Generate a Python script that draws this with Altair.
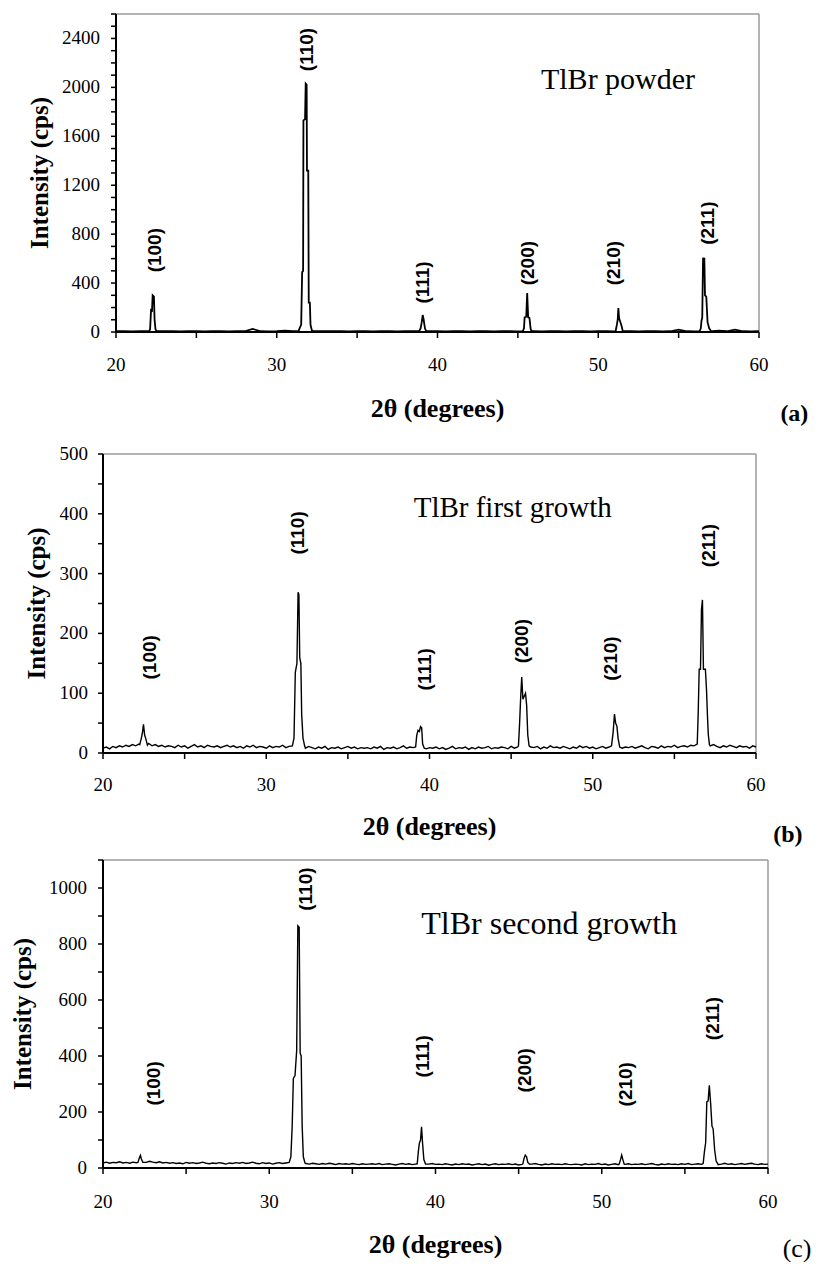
import altair as alt
import pandas as pd

# ---------------- data ----------------
# panel (a) TlBr powder
a_base_start, a_base_step = 20.0, 0.5
a_base_cps = [6, 6, 5, 6, 6, 5, 6, 6, 5, 6, 6, 5, 6, 6, 5, 6, 6, 25, 6, 5,
              6, 12, 6, 6, 5, 6, 7, 6, 6, 5, 6, 6, 5, 6, 6, 5, 6, 6, 5, 6,
              6, 5, 6, 6, 5, 6, 6, 5, 6, 6, 5, 6, 6, 5, 6, 6, 5, 6, 6, 5,
              6, 6, 5, 6, 6, 5, 6, 6, 5, 6, 20, 6, 5, 6, 6, 12, 6, 20, 6, 5, 6]
a_peak_2theta = [
    [22.05, 22.12, 22.18, 22.24, 22.28, 22.36, 22.40, 22.46, 22.55],
    [31.35, 31.45, 31.52, 31.58, 31.64, 31.66, 31.76, 31.80, 31.86, 31.88, 31.96, 31.99, 32.06, 32.10, 32.18, 32.30],
    [38.85, 38.95, 39.02, 39.08, 39.14, 39.22, 39.30],
    [45.30, 45.38, 45.42, 45.52, 45.58, 45.64, 45.72, 45.80, 45.90],
    [51.08, 51.16, 51.21, 51.25, 51.30, 51.38, 51.45, 51.52, 51.60],
    [56.30, 56.38, 56.42, 56.47, 56.52, 56.60, 56.64, 56.72, 56.80, 56.90, 57.00, 57.10],
]
a_peak_cps = [
    [6, 20, 180, 175, 300, 290, 100, 20, 6],
    [6, 40, 60, 490, 500, 1730, 1740, 2030, 2020, 1320, 1320, 240, 240, 60, 15, 6],
    [6, 30, 80, 139, 100, 30, 6],
    [6, 30, 120, 125, 318, 120, 115, 20, 6],
    [6, 60, 100, 196, 110, 80, 50, 10, 6],
    [6, 30, 90, 120, 601, 600, 300, 290, 80, 30, 10, 6],
]
a_labels = ["(100)", "(110)", "(111)", "(200)", "(210)", "(211)"]
a_label_2theta = [22.40, 31.88, 39.12, 45.60, 50.95, 56.85]
a_label_cps = [669, 2310, 405, 563, 563, 890]

# panel (b) TlBr first growth
b_base_start, b_base_step = 20.0, 0.2
b_base_cps = [8, 10, 7, 11, 9, 12, 10, 13, 11, 14, 12, 15, 11, 13, 16, 12, 14, 11, 13, 10, 12,
              11, 9, 13, 10, 12, 8, 11, 14, 10, 12, 9, 13, 11, 10, 12, 9, 11, 13, 10, 12,
              9, 11, 8, 12, 10, 13, 9, 11, 10, 8, 12, 9, 11, 10, 13, 9, 11, 12, 10, 11,
              10, 8, 11, 9, 7, 10, 8, 11, 6, 9, 8, 10, 7, 9, 11, 8, 10, 7, 9, 8,
              9, 7, 10, 8, 11, 6, 9, 8, 10, 7, 9, 12, 8, 10, 9, 11, 8, 10, 7, 9,
              8, 10, 7, 9, 6, 8, 11, 7, 9, 8, 10, 6, 9, 7, 10, 8, 9, 11, 7, 9,
              8, 10, 9, 7, 11, 8, 10, 9, 12, 8, 10, 9, 11, 7, 10, 8, 12, 9, 10, 8,
              11, 9, 7, 10, 8, 12, 9, 11, 8, 10, 7, 9, 11, 8, 10, 12, 9, 11, 8, 10,
              9, 11, 8, 10, 12, 9, 7, 11, 10, 8, 12, 9, 11, 10, 13, 9, 11, 12, 10, 13,
              12, 14, 11, 13, 10, 12, 14, 11, 9, 12, 10, 13, 11, 9, 12, 10, 11, 8, 12, 10]
b_peak_2theta = [
    [22.25, 22.35, 22.42, 22.48, 22.55, 22.62, 22.72],
    [31.60, 31.70, 31.78, 31.88, 31.95, 32.00, 32.05, 32.12, 32.17, 32.25, 32.35],
    [39.15, 39.22, 39.30, 39.38, 39.45, 39.52, 39.58, 39.68],
    [45.45, 45.52, 45.58, 45.65, 45.72, 45.80, 45.88, 45.95, 46.02, 46.10],
    [51.15, 51.25, 51.33, 51.40, 51.48, 51.55, 51.65],
    [56.40, 56.46, 56.52, 56.60, 56.66, 56.72, 56.78, 56.90, 56.97, 57.03, 57.08, 57.15],
]
b_peak_cps = [
    [14, 25, 35, 48, 30, 24, 13],
    [12, 25, 135, 150, 269, 265, 160, 150, 65, 25, 12],
    [10, 30, 38, 36, 44, 42, 15, 8],
    [12, 50, 90, 127, 90, 95, 100, 80, 30, 12],
    [12, 35, 65, 50, 45, 25, 10],
    [15, 67, 140, 140, 240, 256, 140, 140, 105, 60, 30, 14],
]
b_labels = ["(100)", "(110)", "(111)", "(200)", "(210)", "(211)"]
b_label_2theta = [22.90, 31.97, 39.73, 45.68, 51.10, 57.10]
b_label_cps = [160, 368, 140, 187, 158, 347]

# panel (c) TlBr second growth
c_base_start, c_base_step = 20.0, 0.2
c_base_cps = [18, 21, 17, 20, 19, 22, 18, 20, 17, 21, 19, 18, 22, 20, 24, 21, 19, 22, 18, 20, 17,
              19, 16, 18, 15, 20, 17, 19, 16, 18, 21, 17, 15, 18, 16, 19, 17, 14, 18, 16, 19,
              17, 20, 16, 18, 21, 17, 15, 19, 16, 18, 14, 17, 19, 16, 18, 15, 17, 19, 16, 18,
              16, 14, 17, 15, 13, 16, 14, 17, 15, 12, 16, 14, 15, 13, 16, 14, 12, 15, 13, 14,
              15, 13, 16, 12, 14, 15, 13, 11, 14, 16, 13, 15, 12, 14, 13, 15, 12, 14, 16, 13,
              14, 12, 15, 13, 11, 14, 12, 15, 13, 14, 11, 13, 15, 12, 14, 10, 13, 15, 12, 14,
              13, 15, 12, 14, 11, 13, 15, 12, 14, 16, 13, 11, 14, 12, 15, 13, 14, 12, 15, 13,
              12, 14, 13, 11, 15, 12, 14, 13, 16, 12, 14, 11, 13, 15, 12, 14, 13, 15, 12, 14,
              13, 15, 12, 14, 16, 13, 11, 14, 12, 15, 13, 14, 12, 15, 13, 16, 12, 14, 15, 13,
              14, 16, 13, 15, 12, 14, 17, 13, 15, 12, 14, 16, 13, 15, 17, 14, 12, 15, 13, 14]
c_peak_2theta = [
    [22.10, 22.18, 22.25, 22.32, 22.40],
    [31.20, 31.30, 31.38, 31.45, 31.55, 31.65, 31.72, 31.80, 31.86, 31.92, 31.98, 32.05, 32.15],
    [38.90, 38.97, 39.03, 39.10, 39.16, 39.22, 39.30, 39.40],
    [45.25, 45.33, 45.40, 45.48, 45.55, 45.65],
    [51.05, 51.13, 51.20, 51.27, 51.35],
    [56.10, 56.18, 56.25, 56.32, 56.40, 56.47, 56.55, 56.63, 56.70, 56.79, 56.88, 56.98],
]
c_peak_cps = [
    [20, 35, 45, 30, 20],
    [20, 40, 150, 320, 330, 420, 865, 860, 410, 400, 150, 40, 18],
    [15, 60, 89, 100, 147, 90, 30, 14],
    [14, 35, 46, 40, 20, 14],
    [14, 30, 46, 30, 14],
    [16, 60, 90, 236, 240, 295, 230, 150, 140, 65, 25, 15],
]
c_labels = ["(100)", "(110)", "(111)", "(200)", "(210)", "(211)"]
c_label_2theta = [23.05, 32.20, 39.25, 45.40, 51.44, 56.69]
c_label_cps = [302, 996, 399, 349, 299, 534]

sample_names = ["TlBr powder", "TlBr first growth", "TlBr second growth"]
sample_2theta = [51.23, 45.10, 46.84]
sample_cps = [2057, 410, 872]
sample_font = [30, 29, 32]

panel_tags = ["(a)", "(b)", "(c)"]
tag_2theta = [62.2, 61.95, 61.75]
tag_cps = [-669, -137, -290]
tag_weight = ["bold", "bold", "normal"]
tag_size = [24, 24, 26]

x_ticks = [20, 25, 30, 35, 40, 45, 50, 55, 60]
x_tick_labels = [20, 30, 40, 50, 60]
y_ticks = [list(range(0, 2601, 100)), list(range(0, 501, 50)), list(range(0, 1101, 100))]
y_tick_labels = [[0, 400, 800, 1200, 1600, 2000, 2400],
                 [0, 100, 200, 300, 400, 500],
                 [0, 200, 400, 600, 800, 1000]]
y_max = [2600, 500, 1100]
x_title = "2θ (degrees)"
y_title = "Intensity (cps)"

# ---------------- layout (pixels inside the 805x1254 view) ----------------
W, H = 805, 1254
x_ranges = [[108, 751], [95, 748], [95, 760]]
y_ranges = [[324, 6], [745, 446], [1160, 852]]
line_widths = [1.8, 1.4, 1.4]
x_label_dy = [33, 32, 34]
x_title_dy = [77, 74, 77]
y_label_dx = [-16, -15, -16]
y_title_dx = [-76, -66, -80]

SERIF = "Liberation Serif"
SANS = "Liberation Sans"


def build_series(start, step, base, px, py):
    xs = [round(start + i * step, 3) for i in range(len(base))]
    windows = [(min(s), max(s)) for s in px]
    pts = [(x, y) for x, y in zip(xs, base)
           if not any(lo <= x <= hi for lo, hi in windows)]
    for s, v in zip(px, py):
        pts += list(zip(s, v))
    pts.sort()
    return pd.DataFrame(pts, columns=["tt", "cps"])


def make_panel(i, series, lab, lab_x, lab_y):
    xs = alt.Scale(domain=[20, 60], range=x_ranges[i], nice=False, zero=False)
    ys = alt.Scale(domain=[0, y_max[i]], range=y_ranges[i], nice=False, zero=False)

    def X(f):
        return alt.X(f, scale=xs, axis=None)

    def Y(f):
        return alt.Y(f, scale=ys, axis=None)

    # gray frame (top and right)
    frame = pd.DataFrame({"x1": [20, 60], "x2": [60, 60],
                          "y1": [y_max[i], 0], "y2": [y_max[i], y_max[i]]})
    frame_layer = alt.Chart(frame).mark_rule(color="#9a9a9a", strokeWidth=1.5).encode(
        x=X("x1:Q"), x2="x2:Q", y=Y("y1:Q"), y2="y2:Q")

    # black axis lines (left and bottom)
    dom = pd.DataFrame({"x1": [20, 20], "x2": [60, 20], "y1": [0, 0], "y2": [0, y_max[i]]})
    dom_layer = alt.Chart(dom).mark_rule(color="black", strokeWidth=2).encode(
        x=X("x1:Q"), x2="x2:Q", y=Y("y1:Q"), y2="y2:Q")

    # x ticks and labels
    xt = pd.DataFrame({"v": x_ticks, "z": [0] * len(x_ticks)})
    xt_layer = alt.Chart(xt).mark_rule(color="black", strokeWidth=1.5, y2Offset=6).encode(
        x=X("v:Q"), y=Y("z:Q"), y2="z:Q")
    xl = pd.DataFrame({"v": x_tick_labels, "z": [0] * len(x_tick_labels),
                       "t": [str(v) for v in x_tick_labels]})
    xl_layer = alt.Chart(xl).mark_text(
        font=SERIF, fontSize=19, color="black", align="center", baseline="middle",
        dy=x_label_dy[i]).encode(x=X("v:Q"), y=Y("z:Q"), text="t:N")

    # y ticks and labels
    yt = pd.DataFrame({"v": y_ticks[i], "z": [20] * len(y_ticks[i])})
    yt_layer = alt.Chart(yt).mark_rule(color="black", strokeWidth=1.5, x2Offset=-5).encode(
        y=Y("v:Q"), x=X("z:Q"), x2="z:Q")
    yl = pd.DataFrame({"v": y_tick_labels[i], "z": [20] * len(y_tick_labels[i]),
                       "t": [str(v) for v in y_tick_labels[i]]})
    yl_layer = alt.Chart(yl).mark_text(
        font=SERIF, fontSize=19, color="black", align="right", baseline="middle",
        dx=y_label_dx[i]).encode(x=X("z:Q"), y=Y("v:Q"), text="t:N")

    # axis titles
    xtit = pd.DataFrame({"x": [40], "y": [0], "t": [x_title]})
    xtit_layer = alt.Chart(xtit).mark_text(
        font=SERIF, fontSize=26, fontWeight="bold", color="black", align="center",
        baseline="middle", dy=x_title_dy[i]).encode(x=X("x:Q"), y=Y("y:Q"), text="t:N")
    ytit = pd.DataFrame({"x": [20], "y": [y_max[i] / 2], "t": [y_title]})
    ytit_layer = alt.Chart(ytit).mark_text(
        font=SERIF, fontSize=25, fontWeight="bold", color="black", align="center",
        baseline="middle", angle=270, dy=y_title_dx[i]).encode(
        x=X("x:Q"), y=Y("y:Q"), text="t:N")

    # the diffraction pattern
    line = alt.Chart(series).mark_line(color="black", strokeWidth=line_widths[i]).encode(
        x=X("tt:Q"), y=Y("cps:Q"), order="tt:Q")

    labels = pd.DataFrame({"t": lab, "x": lab_x, "y": lab_y})
    label_layer = alt.Chart(labels).mark_text(
        angle=270, font=SANS, fontSize=19, fontWeight="bold", color="black",
        align="center", baseline="middle").encode(x=X("x:Q"), y=Y("y:Q"), text="t:N")

    name = pd.DataFrame({"t": [sample_names[i]], "x": [sample_2theta[i]], "y": [sample_cps[i]]})
    name_layer = alt.Chart(name).mark_text(
        font=SERIF, fontSize=sample_font[i], color="black", align="center",
        baseline="middle").encode(x=X("x:Q"), y=Y("y:Q"), text="t:N")

    tag = pd.DataFrame({"t": [panel_tags[i]], "x": [tag_2theta[i]], "y": [tag_cps[i]]})
    tag_layer = alt.Chart(tag).mark_text(
        font=SERIF, fontSize=tag_size[i], fontWeight=tag_weight[i], color="black",
        align="center", baseline="middle").encode(x=X("x:Q"), y=Y("y:Q"), text="t:N")

    return alt.layer(frame_layer, line, dom_layer, xt_layer, xl_layer, yt_layer, yl_layer,
                     xtit_layer, ytit_layer, label_layer, name_layer, tag_layer)


series_a = build_series(a_base_start, a_base_step, a_base_cps, a_peak_2theta, a_peak_cps)
series_b = build_series(b_base_start, b_base_step, b_base_cps, b_peak_2theta, b_peak_cps)
series_c = build_series(c_base_start, c_base_step, c_base_cps, c_peak_2theta, c_peak_cps)

pa = make_panel(0, series_a, a_labels, a_label_2theta, a_label_cps)
pb = make_panel(1, series_b, b_labels, b_label_2theta, b_label_cps)
pc = make_panel(2, series_c, c_labels, c_label_2theta, c_label_cps)

chart = alt.layer(pa, pb, pc).resolve_scale(x="independent", y="independent").properties(
    width=W, height=H, padding=0, autosize=alt.AutoSizeParams(type="none"),
    background="white").configure_view(stroke=None)

chart.save("out.html", embed_options={"renderer": "svg", "actions": False})
